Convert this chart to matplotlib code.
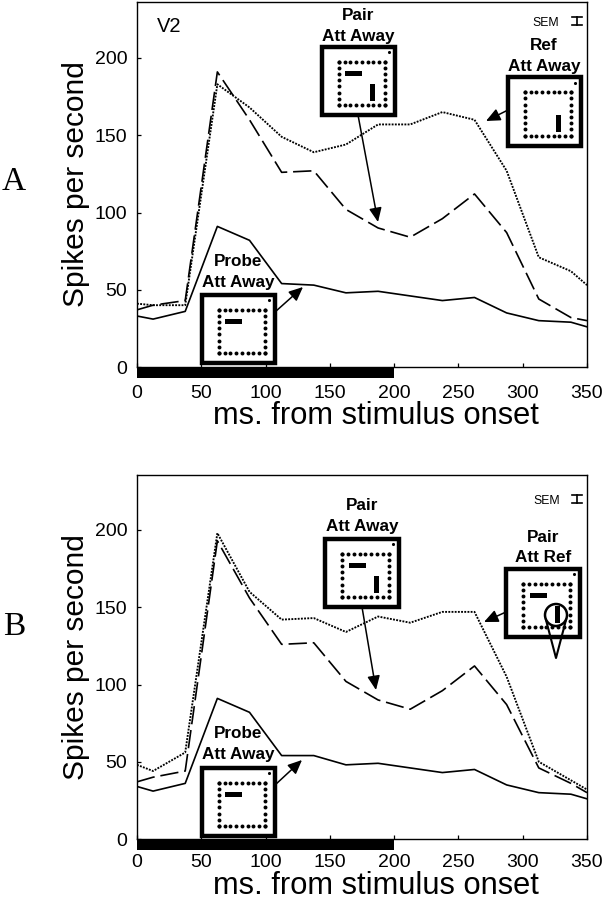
import matplotlib
matplotlib.use("Agg")
import matplotlib.pyplot as plt
import numpy as np
from matplotlib.patches import Rectangle, Circle

plt.rcParams['font.family'] = ['Liberation Sans', 'DejaVu Sans']

# time bins, ms
times = [0, 12.5, 37.5, 62.5, 87.5, 112.5, 137.5, 162.5, 187.5, 212.5, 237.5, 262.5, 287.5, 312.5, 337.5, 350]

a_probe = [33, 31, 36, 91, 82, 54, 53, 48, 49, 46, 43, 45, 35, 30, 29, 26]
a_pair = [37, 40, 43, 191, 160, 126, 127, 102, 90, 84, 96, 112, 87, 44, 32, 30]
a_ref = [41, 40, 40, 183, 168, 149, 139, 144, 157, 157, 165, 160, 127, 71, 62, 53]

b_probe = [34, 31, 36, 91, 82, 54, 54, 48, 49, 46, 43, 45, 35, 30, 29, 26]
b_pair = [37, 40, 44, 193, 156, 126, 127, 102, 90, 84, 96, 112, 87, 46, 36, 30]
b_attref = [48, 44, 56, 198, 160, 142, 143, 134, 144, 140, 147, 147, 105, 50, 38, 32]

x_ticks = [0, 50, 100, 150, 200, 250, 300, 350]
y_ticks = [0, 50, 100, 150, 200]
stim_end = 200

W, H = 606, 900
fig = plt.figure(figsize=(W / 100, H / 100), dpi=100)


def make_panel(bottom_px, height_px, probe, pair, other, tick_pad, label_gap):
    ax = fig.add_axes([137 / W, bottom_px / H, 450 / W, height_px / H])
    ax.plot(times, probe, color='black', lw=1.2)
    ax.plot(times, pair, color='black', lw=1.2, ls=(0, (11, 3.5)))
    ax.plot(times, other, color='black', lw=1.35, ls=(0, (1, 0.7)))
    ax.set_xlim(0, 350)
    ax.set_ylim(0, height_px / 1.545)
    ax.set_xticks(x_ticks)
    ax.set_yticks(y_ticks)
    ax.tick_params(direction='in', length=3, width=0.9, labelsize=14)
    ax.tick_params(axis='x', pad=tick_pad)
    ax.tick_params(axis='y', pad=7)
    ax.set_xlabel('ms. from stimulus onset', fontsize=22.2, va='center')
    ax.xaxis.set_label_coords(0.531, -label_gap / height_px)
    ax.set_ylabel('Spikes per second', fontsize=21.5, va='center')
    ax.yaxis.set_label_coords(-61 / 450, 0.5)
    for s in ax.spines.values():
        s.set_linewidth(1.0)
    # stimulus bar sits under the axis
    ax.add_patch(Rectangle((0, 0), stim_end, -7, color='black', clip_on=False, lw=0))
    return ax


ax_a = make_panel(533, 365, a_probe, a_pair, a_ref, 13, 49)
ax_b = make_panel(61, 364, b_probe, b_pair, b_attref, 10.5, 46.5)

# overlay in pixel coords for the hand drawn insets
ov = fig.add_axes([0, 0, 1, 1], zorder=5)
ov.set_xlim(0, W)
ov.set_ylim(H, 0)
ov.axis('off')
ov.patch.set_alpha(0)


def inset(x0, y0, x1, y1, hbar=True, vbar=True):
    w = x1 - x0
    h = y1 - y0
    ov.add_patch(Rectangle((x0, y0), w, h, fc='white', ec='black', lw=3.2))
    xs = x0 + w * np.linspace(0.23, 0.86, 9)
    ys = y0 + h * np.linspace(0.22, 0.85, 8)
    ov.scatter(xs, [ys[0]] * 9, s=8, c='black', lw=0)
    ov.scatter(xs, [ys[-1]] * 9, s=8, c='black', lw=0)
    ov.scatter([xs[0]] * 8, ys, s=8, c='black', lw=0)
    ov.scatter([xs[-1]] * 8, ys, s=8, c='black', lw=0)
    ov.scatter([x0 + w * 0.92], [y0 + h * 0.08], s=5, c='black', lw=0)
    if hbar:
        ov.add_patch(Rectangle((x0 + w * 0.32, y0 + h * 0.35), w * 0.23, h * 0.08, color='black', lw=0))
    if vbar:
        ov.add_patch(Rectangle((x0 + w * 0.66, y0 + h * 0.55), w * 0.07, h * 0.24, color='black', lw=0))


def arrow(x0, y0, x1, y1):
    ov.annotate('', xy=(x1, y1), xytext=(x0, y0),
                arrowprops=dict(arrowstyle='-|>,head_length=0.85,head_width=0.38', color='black',
                                lw=1.1, shrinkA=0, shrinkB=0))


def label(cx, y1, y2, top, bottom):
    ov.text(cx, y1 + 1, top, ha='center', va='center', fontsize=12.3, fontweight='bold')
    ov.text(cx, y2 + 1, bottom, ha='center', va='center', fontsize=12.3, fontweight='bold')


def sem(x_txt, y_txt, x_bar, y0, y1):
    ov.text(x_txt, y_txt, 'SEM', fontsize=8.8, va='center')
    ov.plot([x_bar, x_bar], [y0, y1], color='black', lw=1.2)
    ov.plot([x_bar - 5, x_bar + 5], [y0, y0], color='black', lw=1.2)
    ov.plot([x_bar - 5, x_bar + 5], [y1, y1], color='black', lw=1.2)


# panel A
inset(322, 47, 395, 115, hbar=True, vbar=True)
label(358, 14, 35, 'Pair', 'Att Away')
arrow(358, 115, 378, 222)
inset(508, 77, 581, 146, hbar=False, vbar=True)
label(544, 45, 66, 'Ref', 'Att Away')
arrow(508, 110, 486, 121)
inset(202, 295, 275, 363, hbar=True, vbar=False)
label(238, 260, 281, 'Probe', 'Att Away')
arrow(275, 312, 303, 287)
ov.text(157, 27, 'V2', fontsize=14.5, va='center')
sem(532, 23, 577, 17, 25)
ov.text(2, 182, 'A', family=['Liberation Serif'], fontsize=24, va='center')

# panel B
inset(325, 539, 399, 607, hbar=True, vbar=True)
label(362, 504, 525, 'Pair', 'Att Away')
arrow(362, 607, 376, 690)
inset(506, 569, 580, 637, hbar=True, vbar=True)
label(543, 536, 556, 'Pair', 'Att Ref')
arrow(506, 612, 484, 622)
inset(202, 768, 275, 836, hbar=True, vbar=False)
label(238, 733, 754, 'Probe', 'Att Away')
arrow(275, 785, 302, 760)
sem(533, 501, 577, 495, 503)
ov.text(3, 627, 'B', family=['Liberation Serif'], fontsize=24, va='center')

# attention spotlight on the ref bar
ov.add_patch(Circle((556, 615), 11, fc='none', ec='black', lw=1.8))
ov.plot([546, 556, 566], [620, 658, 620], color='black', lw=1.5)

fig.savefig('out.png', dpi=100, facecolor='white')
